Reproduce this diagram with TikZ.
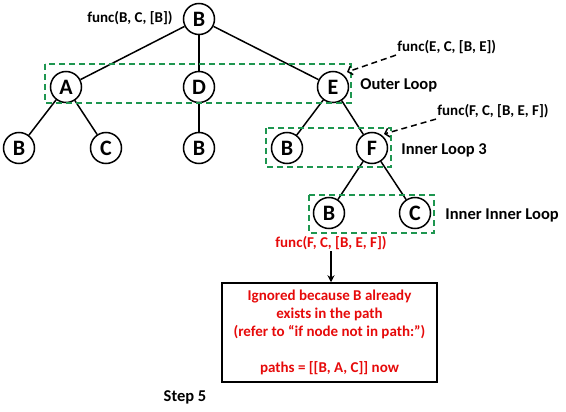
\documentclass[tikz,border=0pt]{standalone}
\usepackage{fontspec}
\setmainfont{Carlito}
\usetikzlibrary{arrows,arrows.meta}
\usetikzlibrary{positioning}
\definecolor{loopgreen}{RGB}{30,150,80}
\definecolor{noteRed}{RGB}{230,10,10}

\begin{document}
\begin{tikzpicture}[x=1pt,y=-1pt,-,>=stealth',auto,thick,
    main node/.style={circle,draw,line width=1.5pt,minimum size=31pt,inner sep=0pt,font=\fontsize{22}{24}\selectfont\bfseries},
    call label/.style={font=\fontsize{15}{17}\selectfont\bfseries,inner sep=1pt},
    loop label/.style={font=\fontsize{16.5}{18}\selectfont\bfseries,anchor=west,inner sep=0pt},
    loop box/.style={draw=loopgreen,dashed,line width=1.6pt,dash pattern=on 6pt off 4pt},
    call arrow/.style={-{Straight Barb[length=4pt,width=9pt]}, line width=1.5pt, dash pattern=on 6pt off 4pt}]
      \useasboundingbox (0,0) rectangle (566,412);

      % the tree
      \node [main node] (root) at (199,19) {B};
      \node [main node] (a) at (66,87) {A};
      \node [main node] (d) at (199,87) {D};
      \node [main node] (e) at (333,87) {E};
      \node [main node] (ab) at (19,148) {B};
      \node [main node] (ac) at (106,148) {C};
      \node [main node] (db) at (199,148) {B};
      \node [main node] (eb) at (287,148) {B};
      \node [main node] (f) at (372,148) {F};
      \node [main node] (fb) at (329,213) {B};
      \node [main node] (fc) at (415,213) {C};

      \foreach \from/\to in {root/a, root/d, root/e, a/ab, a/ac, d/db, e/eb, e/f, f/fb, f/fc}
        \draw[line width=1.5pt] (\from) -- (\to);

      % loops
      \draw[loop box] (45,64) rectangle (351,103);
      \draw[loop box] (266,128) rectangle (391,167);
      \draw[loop box] (309,195) rectangle (434,233);

      \node [loop label] (outer) at (360,85) {Outer Loop};
      \node [loop label] (inner) at (401,150) {Inner Loop 3};
      \node [loop label] (innerinner) at (445,215) {Inner Inner Loop};

      % calls
      \node [call label, anchor=east] (callb) at (174,18) {func(B, C, [B])};
      \node [call label, anchor=west] (calle) at (396,47) {func(E, C, [B, E])};
      \node [call label, anchor=west] (callf) at (436,111) {func(F, C, [B, E, F])};
      \coordinate (etip) at (347,72);
      \coordinate (ftip) at (384,134);
      \draw[call arrow] (calle.south west) -- (etip);
      \draw[call arrow] (callf.south west) -- (ftip);

      % ignored call
      \node [call label, text=noteRed] (callfb) at (331,243) {func(F, C, [B, E, F])};
      \node [draw, line width=1.5pt, minimum width=215pt, minimum height=99pt, align=center,
             text=noteRed, font=\fontsize{15}{18}\selectfont\bfseries] (ignored) at (329.5,332.5)
        {Ignored because B already\\exists in the path\\(refer to “if node not in path:”)\\[18pt]paths = [[B, A, C]] now};
      \draw[-{Stealth[length=7pt,width=7pt]}, line width=1.5pt] (callfb) -- (callfb |- ignored.north);

      \node [font=\fontsize{16.5}{18}\selectfont\bfseries] (step) at (185,397) {Step 5};

    \end{tikzpicture}
\end{document}
